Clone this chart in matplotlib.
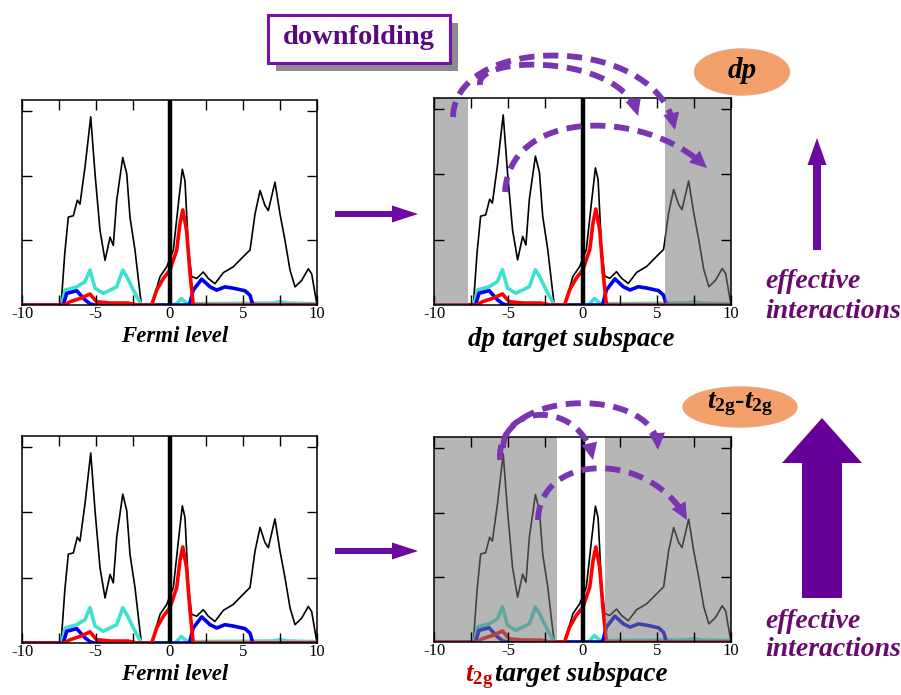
import numpy as np
import matplotlib
matplotlib.use("Agg")
import matplotlib.pyplot as plt
from matplotlib.patches import Rectangle, Ellipse, FancyArrow, Polygon

plt.rcParams['font.family'] = ['Liberation Serif', 'DejaVu Serif']
plt.rcParams['axes.unicode_minus'] = False
plt.rcParams['mathtext.fontset'] = 'custom'
plt.rcParams['mathtext.it'] = 'Liberation Serif:italic:bold'
plt.rcParams['mathtext.rm'] = 'Liberation Serif:bold'
plt.rcParams['mathtext.bf'] = 'Liberation Serif:bold'

# DOS curves (energy in eV, arbitrary DOS units)
total_E = [-10, -7.35, -7.1, -6.86, -6.52, -6.25, -6.07, -5.73, -5.34, -5.05, -4.71, -4.37,
           -4.03, -3.81, -3.58, -3.17, -2.90, -2.68, -2.34, -2.0, -1.9, -1.21, -0.64, -0.19,
           0.26, 0.60, 0.87, 1.05, 1.28, 1.50, 1.84, 2.29, 2.63, 3.08, 3.65, 4.32, 5.23, 5.46,
           5.80, 6.14, 6.47, 6.70, 7.15, 7.49, 7.83, 8.17, 8.51, 8.96, 9.41, 9.64, 10.0]
total_v = [0, 0, 8.0, 13.6, 13.8, 16.2, 15.6, 21.3, 29.1, 20.3, 11.5, 6.9,
           10.5, 9.2, 16.2, 22.8, 20.3, 13.6, 8.5, 1.8, 0, 0, 4.4, 5.9,
           8.5, 15.6, 21.0, 19.2, 8.7, 4.4, 4.1, 5.1, 4.1, 3.3, 5.0, 5.9, 8.0, 8.5,
           14.1, 17.7, 15.4, 14.6, 19.0, 14.1, 10.0, 5.4, 2.8, 3.8, 5.6, 4.8, 0]

cyan_E = [-10, -7.3, -7.08, -6.29, -5.73, -5.39, -5.05, -4.49, -4.03, -3.58, -3.17, -2.90,
          -2.45, -1.9, 0.4, 0.8, 1.2, 1.4, 7.0, 7.5, 8.0, 10]
cyan_v = [0, 0, 2.3, 2.8, 3.6, 5.4, 2.6, 1.8, 2.3, 2.8, 5.4, 4.4,
          2.3, 0, 0, 1.0, 0.2, 0.2, 0.3, 0.5, 0.3, 0.2]

blue_E = [-10, -7.2, -6.97, -6.29, -5.73, -5.39, -5.1, 1.35, 1.61, 2.18, 2.75, 3.20, 3.76,
          4.32, 5.12, 5.46, 5.65, 10]
blue_v = [0, 0, 1.8, 2.2, 0.8, 0.2, 0, 0, 2.3, 4.0, 2.8, 2.3, 2.8,
          2.6, 2.2, 1.5, 0, 0]

red_E = [-10, -7.1, -6.75, -6.07, -5.39, -4.94, -4.03, -2.8, -2.2, -1.21, -0.87, -0.42, 0.03,
         0.49, 0.71, 0.90, 1.16, 1.39, 1.61, 10]
red_v = [0, 0, 0.5, 1.0, 1.7, 0.5, 0.3, 0.3, 0, 0, 2.3, 4.1, 5.4,
         8.5, 12.6, 14.7, 11.5, 4.9, 0, 0]

# energy windows outside the target subspace (greyed out)
dp_out = [(-10, -7.7), (5.55, 10)]
t2g_out = [(-10, -1.7), (1.5, 10)]

W, H = 901, 695
fig = plt.figure(figsize=(W / 100, H / 100), dpi=100)


def rect(x0, x1, y0, y1):
    return [x0 / W, 1 - y1 / H, (x1 - x0) / W, (y1 - y0) / H]


def dos_panel(pos, spans):
    ax = fig.add_axes(pos)
    ax.plot(total_E, total_v, color='black', lw=1.2, zorder=2)
    ax.plot(cyan_E, cyan_v, color='#40e0d0', lw=2.6, zorder=2)
    ax.plot(blue_E, blue_v, color='#0000f0', lw=2.6, zorder=2)
    ax.plot(red_E, red_v, color='#ff0000', lw=2.6, zorder=2)
    for a, b in spans:
        ax.axvspan(a, b, color='#7a7a7a', alpha=0.55, lw=0, zorder=2.2)
    ax.axvline(0, color='black', lw=3.2, zorder=2.4)
    ax.set_xlim(-10, 10)
    ax.set_ylim(0, 31.7)
    ax.set_axisbelow(False)
    ax.set_xticks([-10, -5, 0, 5, 10])
    ax.set_xticks([-7.5, -2.5, 2.5, 7.5], minor=True)
    ax.set_yticks([10, 20, 30])
    ax.set_yticklabels([])
    ax.tick_params(which='both', direction='in', top=True, right=True, length=7,
                   width=1, labelsize=12, pad=1)
    for s in ax.spines.values():
        s.set_linewidth(1.1)
        s.set_zorder(3)
    return ax


dos_panel(rect(22, 317, 100, 305), [])
dos_panel(rect(434, 731, 98, 305), dp_out)
dos_panel(rect(22, 317, 436, 643), [])
dos_panel(rect(434, 731, 437, 642), t2g_out)

# overlay in pixel coordinates for annotations
ov = fig.add_axes([0, 0, 1, 1], zorder=10)
ov.set_xlim(0, W)
ov.set_ylim(H, 0)
ov.axis('off')

lab = dict(fontweight='bold', fontstyle='italic')
ov.text(175, 336, 'Fermi level', fontsize=16.5, ha='center', va='center', **lab)
ov.text(175, 674, 'Fermi level', fontsize=16.5, ha='center', va='center', **lab)
ov.text(571, 339, 'dp target subspace', fontsize=19.5, ha='center', va='center', **lab)
ov.text(495, 681, 'target subspace', fontsize=19.5, ha='left', va='baseline', **lab)
ov.text(493, 681, r'$t_{\mathrm{2g}}$', fontsize=19.5, color='#c00000', ha='right',
        va='baseline')

# downfolding box with shadow
ov.add_patch(Rectangle((276, 23), 182, 48, color='#8c8c8c', lw=0))
ov.add_patch(Rectangle((268, 15), 182, 48, facecolor='white', edgecolor='#7a10a8', lw=2.2))
ov.text(359, 38, 'downfolding', fontsize=20.5, fontweight='bold', color='#5a0880',
        ha='center', va='center')

# orange ellipses
ov.add_patch(Ellipse((742, 72), 95, 46, facecolor='#f4a06a', edgecolor='#eaa57a', lw=1))
ov.text(742, 70, 'dp', fontsize=21, fontweight='bold', fontstyle='italic', ha='center', va='center')
ov.add_patch(Ellipse((740, 407), 114, 40, facecolor='#f4a06a', edgecolor='#eaa57a', lw=1))
ov.text(740, 404, r'$t_{\mathrm{2g}}$-$t_{\mathrm{2g}}$', fontsize=20, fontweight='bold',
        ha='center', va='center')

# straight arrows
arrow_col = '#6a0aa0'
for y in (214, 551):
    ov.add_patch(FancyArrow(335, y, 83, 0, width=6, head_width=17, head_length=26,
                            length_includes_head=True, color=arrow_col, lw=0))
ov.add_patch(FancyArrow(817, 250, 0, -112, width=8, head_width=19, head_length=27,
                        length_includes_head=True, color=arrow_col, lw=0))
ov.add_patch(FancyArrow(822, 598, 0, -180, width=40, head_width=80, head_length=45,
                        length_includes_head=True, color='#660099', lw=0))

eff = dict(fontsize=20, fontweight='bold', fontstyle='italic', color='#6a0a6e', ha='left',
           va='center')
ov.text(765, 282, 'effective', **eff)
ov.text(765, 311, 'interactions', **eff)
ov.text(765, 621, 'effective', **eff)
ov.text(765, 650, 'interactions', **eff)

# dashed hopping arcs (cubic Bezier in pixel space) with arrow heads
arc_col = '#7a35b0'
arcs = [
    ((453, 117), (455, 33), (660, 33), (675, 130)),
    ((480, 85), (475, 54), (625, 54), (638, 116)),
    ((505, 192), (510, 108), (646, 108), (707, 168)),
    ((500, 460), (495, 386), (660, 386), (658, 450)),
    ((503, 448), (505, 402), (583, 402), (593, 460)),
    ((538, 520), (540, 451), (652, 451), (687, 520)),
]
t = np.linspace(0, 1, 200)[:, None]
for p0, c1, c2, p3 in arcs:
    p0, c1, c2, p3 = map(np.array, (p0, c1, c2, p3))
    pts = (1 - t) ** 3 * p0 + 3 * t * (1 - t) ** 2 * c1 + 3 * t ** 2 * (1 - t) * c2 + t ** 3 * p3
    d = pts[-1] - pts[-8]
    d = d / np.hypot(*d)
    n = np.array([-d[1], d[0]])
    base = p3 - 17 * d
    ov.plot(pts[:-10, 0], pts[:-10, 1], color=arc_col, lw=4.2, ls=(0, (2.6, 1.5)),
            solid_capstyle='butt', dash_capstyle='butt')
    ov.add_patch(Polygon([p3, base + 8 * n, base - 8 * n], closed=True, color=arc_col, lw=0))

fig.savefig('out.png', dpi=100)
